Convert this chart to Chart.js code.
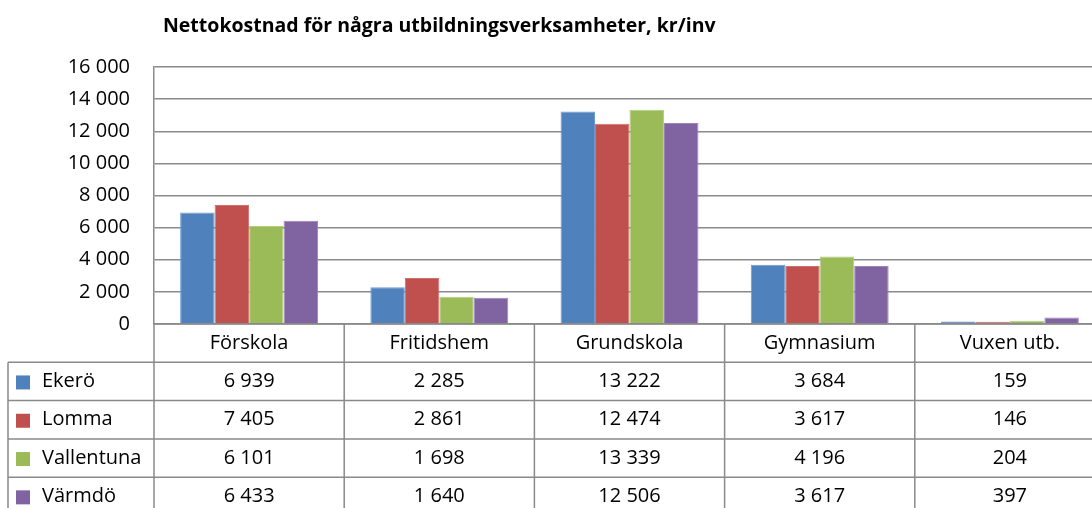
<!DOCTYPE html>
<html>
<head>
<meta charset="utf-8">
<script src="https://cdn.jsdelivr.net/npm/chart.js@4.4.1/dist/chart.umd.min.js"></script>
<style>
html,body{margin:0;padding:0;overflow:hidden;background:#fff;width:1092px;height:508px;}
canvas{display:block;}
</style>
</head>
<body>
<canvas id="c" width="1110" height="520"></canvas>
<script>
const title = "Nettokostnad för några utbildningsverksamheter, kr/inv";
const categories = ["Förskola", "Fritidshem", "Grundskola", "Gymnasium", "Vuxen utb."];
const seriesNames = ["Ekerö", "Lomma", "Vallentuna", "Värmdö"];
const ekero = [6939, 2285, 13222, 3684, 159];
const lomma = [7405, 2861, 12474, 3617, 146];
const vallentuna = [6101, 1698, 13339, 4196, 204];
const varmdo = [6433, 1640, 12506, 3617, 397];
const yTicks = [0, 2000, 4000, 6000, 8000, 10000, 12000, 14000, 16000];
const colors = ["#4F81BD", "#C0504D", "#9BBB59", "#8064A2"];
const borders = ["#6F9AD0", "#D06E6B", "#B3CF7A", "#9C84BA"];

const FONT = "'Open Sans', 'Liberation Sans', sans-serif";
const fmt = v => String(v).replace(/\B(?=(\d{3})+(?!\d))/g, " ");

const seriesValues = [ekero, lomma, vallentuna, varmdo];

const tablePlugin = {
  id: "dataTable",
  afterDraw(chart) {
    const ctx = chart.ctx;
    const x = chart.scales.x;
    const area = chart.chartArea;
    const n = categories.length;
    const colW = (area.right - area.left) / n;
    const rowH = 38.3;
    const headerTop = area.bottom;
    const legendLeft = 8;
    ctx.save();
    ctx.strokeStyle = "#8A8A8A";
    ctx.lineWidth = 1.5;
    const rowsY = [];
    for (let r = 0; r <= seriesNames.length + 1; r++) rowsY.push(headerTop + r * rowH);
    ctx.beginPath();
    ctx.moveTo(area.left, rowsY[0]); ctx.lineTo(area.right + 20, rowsY[0]);
    for (let r = 1; r < rowsY.length; r++) {
      ctx.moveTo(legendLeft, rowsY[r]); ctx.lineTo(area.right + 20, rowsY[r]);
    }
    for (let c = 0; c <= n; c++) {
      const cx = area.left + c * colW;
      ctx.moveTo(cx, rowsY[0]); ctx.lineTo(cx, rowsY[rowsY.length - 1]);
    }
    ctx.moveTo(legendLeft, rowsY[1]); ctx.lineTo(legendLeft, rowsY[rowsY.length - 1]);
    ctx.stroke();

    ctx.fillStyle = "#000";
    ctx.font = "20px " + FONT;
    ctx.textAlign = "center";
    ctx.textBaseline = "middle";
    categories.forEach((c, i) => {
      ctx.fillText(c, x.getPixelForValue(i), (rowsY[0] + rowsY[1]) / 2);
    });
    seriesNames.forEach((s, r) => {
      const cy = (rowsY[r + 1] + rowsY[r + 2]) / 2;
      ctx.fillStyle = colors[r];
      ctx.fillRect(16, cy - 6, 14, 14);
      ctx.fillStyle = "#000";
      ctx.textAlign = "left";
      ctx.fillText(s, 42, cy);
      ctx.textAlign = "center";
      seriesValues[r].forEach((v, i) => {
        ctx.fillText(fmt(v), x.getPixelForValue(i), cy);
      });
    });
    ctx.font = "bold 19.5px " + FONT;
    ctx.textAlign = "left";
    ctx.fillText(title, 163, 26);
    ctx.restore();
  }
};

new Chart(document.getElementById("c"), {
  type: "bar",
  data: {
    labels: categories,
    datasets: seriesNames.map((name, i) => ({
      label: name,
      data: seriesValues[i],
      backgroundColor: colors[i],
      borderColor: borders[i],
      borderWidth: 1,
      categoryPercentage: 0.725,
      barPercentage: 1.0
    }))
  },
  options: {
    responsive: false,
    animation: false,
    layout: { padding: { top: 67, right: 5, bottom: 196, left: 0 } },
    plugins: { legend: { display: false }, tooltip: { enabled: false }, title: { display: false } },
    scales: {
      x: { display: false },
      y: {
        min: 0, max: 16000,
        afterBuildTicks: s => { s.ticks = yTicks.map(v => ({ value: v })); },
        afterFit: s => { s.width = 154; },
        grid: { color: "#8A8A8A", lineWidth: 1.5, drawTicks: false },
        border: { color: "#8A8A8A", width: 1.5 },
        ticks: {
          padding: 24,
          color: "#000",
          font: { family: FONT, size: 20 },
          callback: v => fmt(v)
        }
      }
    }
  },
  plugins: [tablePlugin]
});
</script>
</body>
</html>
